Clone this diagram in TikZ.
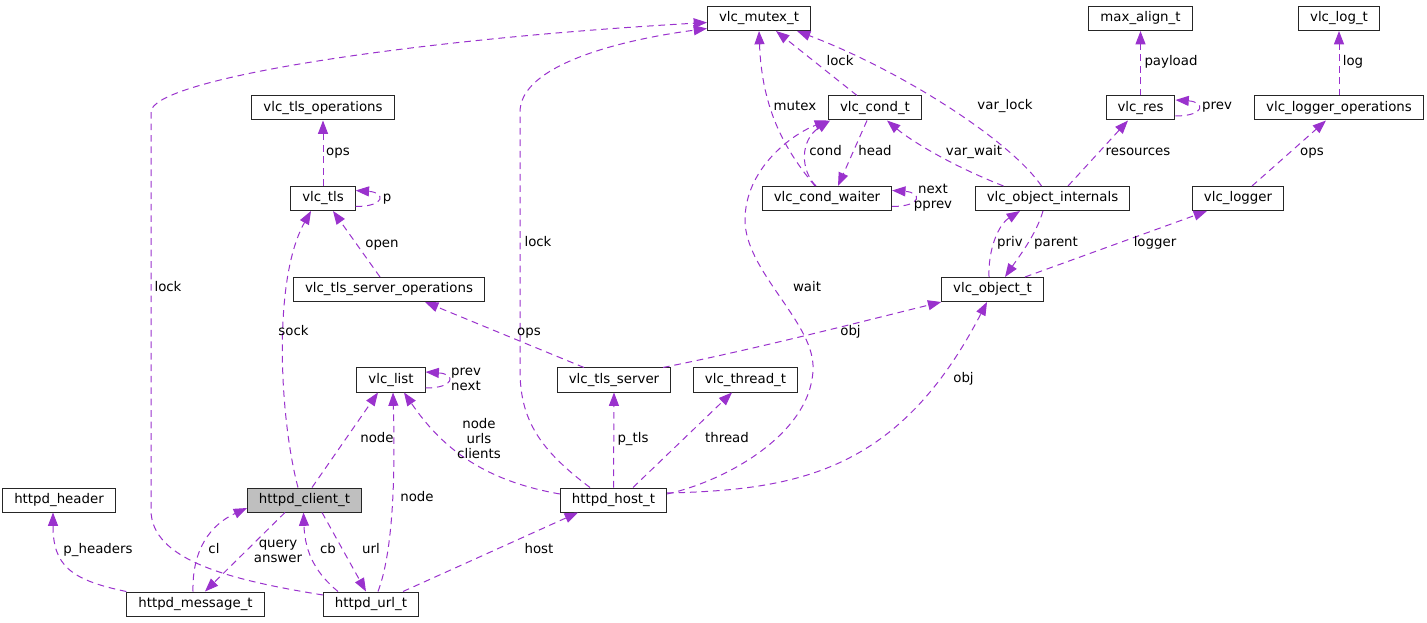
\documentclass[tikz,border=0pt]{standalone}
\usepackage{fontspec}
\setmainfont{DejaVu Sans}
\usepackage{tikz}
\usetikzlibrary{arrows.meta,calc}
\definecolor{edgeColor}{RGB}{154,50,205}
\definecolor{focusColor}{RGB}{191,191,191}
\tikzstyle{collab} = [x = 0.75pt, y = -0.75pt, font=\fontsize{10}{11.25}\selectfont]
\tikzstyle{classBox} = [draw=black!85, fill=white, line width=0.75pt, minimum height=18pt, inner xsep=8.6pt, inner ysep=0pt]
\tikzstyle{focusBox} = [classBox, fill=focusColor]
\tikzstyle{memberEdge} = [color=edgeColor, line width=0.75pt, dash pattern=on 5pt off 3.6pt, -{Triangle[length=10pt, width=7.5pt]}]
\tikzstyle{memberText} = [inner sep=0pt, text height=7.6pt, text depth=2.4pt]
\tikzstyle{memberLines} = [inner sep=0pt, align=center]
\newcommand{\selfLoop}[1]{\draw [memberEdge] ($(#1.east)+(0,8)$) .. controls +(30,0) and +(30,2) .. ($(#1.east)+(0,-8)$);}

\begin{document}
\begin{tikzpicture}[collab]
          \useasboundingbox (0,0) rectangle (1427,623);
          \node [classBox] (mutex) at (759,18.5) {vlc\_mutex\_t};
          \node [classBox] (maxAlign) at (1140.5,18.5) {max\_align\_t};
          \node [classBox] (logT) at (1339,18.5) {vlc\_log\_t};
          \node [classBox] (tlsOps) at (323,108) {vlc\_tls\_operations};
          \node [classBox] (condT) at (875,108) {vlc\_cond\_t};
          \node [classBox] (res) at (1140.5,108) {vlc\_res};
          \node [classBox] (loggerOps) at (1339,108) {vlc\_logger\_operations};
          \node [classBox] (tls) at (323,198.5) {vlc\_tls};
          \node [classBox] (condWaiter) at (827,198.5) {vlc\_cond\_waiter};
          \node [classBox] (objInternals) at (1052.5,198.5) {vlc\_object\_internals};
          \node [classBox] (logger) at (1238,198.5) {vlc\_logger};
          \node [classBox] (tlsServerOps) at (389,289.5) {vlc\_tls\_server\_operations};
          \node [classBox] (objectT) at (992.5,289.5) {vlc\_object\_t};
          \node [classBox] (list) at (391,380) {vlc\_list};
          \node [classBox] (tlsServer) at (614,380) {vlc\_tls\_server};
          \node [classBox] (threadT) at (745.5,380) {vlc\_thread\_t};
          \node [classBox] (header) at (59,500) {httpd\_header};
          \node [focusBox] (clientT) at (304.5,500) {httpd\_client\_t};
          \node [classBox] (hostT) at (613.5,500) {httpd\_host\_t};
          \node [classBox] (messageT) at (195.5,604) {httpd\_message\_t};
          \node [classBox] (urlT) at (371,604) {httpd\_url\_t};

          \draw [memberEdge] (tls.north) -- (tlsOps.south);
          \selfLoop{tls}
          \draw [memberEdge] ($(tlsServerOps.north)+(-9,0)$) -- ($(tls.south)+(10,0)$);
          \draw [memberEdge] ($(clientT.north)+(-6.5,0)$) .. controls (280,420) and (272,280) .. ($(tls.south)+(-12,0)$);
          \draw [memberEdge] ($(urlT.west)+(0,-9)$) .. controls (230,580) and (151,560) .. (151,510) -- (151,112) .. controls (151,80) and (400,40) .. ($(mutex.west)+(0,4)$);
          \draw [memberEdge] ($(hostT.north)+(-23.5,0)$) .. controls (540,450) and (520,420) .. (520,370) -- (520,112) .. controls (520,65) and (620,40) .. ($(mutex.west)+(0,10)$);
          \draw [memberEdge] ($(condWaiter.north)+(-12,0)$) .. controls (785,150) and (762,110) .. (mutex.south);
          \draw [memberEdge] ($(condT.north)+(-18,0)$) -- ($(mutex.south)+(17,0)$);
          \draw [memberEdge] ($(objInternals.north)+(-11,0)$) .. controls (1010,140) and (900,70) .. ($(mutex.south east)+(-14,0)$);
          \draw [memberEdge] ($(condWaiter.north)+(-11,0)$) .. controls (800,170) and (800,140) .. ($(condT.south west)+(2,0)$);
          \draw [memberEdge] ($(condT.south)+(-8,0)$) -- ($(condWaiter.north)+(11,0)$);
          \selfLoop{condWaiter}
          \draw [memberEdge] ($(objInternals.north)+(-49,0)$) .. controls (950,165) and (910,140) .. ($(condT.south)+(12,0)$);
          \draw [memberEdge] ($(hostT.east)+(0,-6)$) .. controls (730,480) and (815,430) .. (813,365) .. controls (811,320) and (745,270) .. (745,220) .. controls (745,170) and (790,135) .. (condT.south west);
          \draw [memberEdge] (res.north) -- (maxAlign.south);
          \selfLoop{res}
          \draw [memberEdge] ($(objInternals.north)+(15.5,0)$) -- ($(res.south)+(-12.5,0)$);
          \draw [memberEdge] (loggerOps.north) -- (logT.south);
          \draw [memberEdge] ($(logger.north)+(14,0)$) -- ($(loggerOps.south)+(-13,0)$);
          \draw [memberEdge] ($(objectT.north)+(-3.5,0)$) .. controls (988,250) and (998,225) .. ($(objInternals.south)+(-32.5,0)$);
          \draw [memberEdge] ($(objInternals.south)+(-9.5,0)$) .. controls (1036,235) and (1018,258) .. ($(objectT.north)+(12.5,0)$);
          \draw [memberEdge] ($(objectT.north)+(32.5,0)$) -- ($(logger.south)+(-31,0)$);
          \draw [memberEdge] ($(tlsServer.north)+(49,0)$) .. controls (760,348) and (860,322) .. (objectT.south west);
          \draw [memberEdge] ($(hostT.east)+(0,-7)$) .. controls (800,490) and (900,470) .. ($(objectT.south)+(-5.5,0)$);
          \draw [memberEdge] ($(tlsServer.north)+(-30,0)$) -- ($(tlsServerOps.south)+(36,0)$);
          \selfLoop{list}
          \draw [memberEdge] ($(clientT.north)+(7.5,0)$) -- ($(list.south)+(-13,0)$);
          \draw [memberEdge] ($(urlT.north)+(7,0)$) .. controls (390,560) and (396,500) .. ($(list.south)+(2,0)$);
          \draw [memberEdge] ($(hostT.west)+(0,-6)$) .. controls (480,480) and (440,445) .. ($(list.south)+(13,0)$);
          \draw [memberEdge] (hostT.north) -- (tlsServer.south);
          \draw [memberEdge] ($(hostT.north)+(19.5,0)$) -- ($(threadT.south)+(-13.5,0)$);
          \draw [memberEdge] ($(urlT.north)+(32,0)$) -- ($(hostT.south)+(-35.5,0)$);
          \draw [memberEdge] (messageT.north west) .. controls (70,580) and (53,565) .. ($(header.south)+(-6,0)$);
          \draw [memberEdge] ($(messageT.north)+(-2.5,0)$) .. controls (192,550) and (210,525) .. ($(clientT.west)+(0,8)$);
          \draw [memberEdge] ($(clientT.south)+(-19.5,0)$) -- ($(messageT.north)+(9.5,0)$);
          \draw [memberEdge] ($(urlT.north)+(-33,0)$) .. controls (318,575) and (305,555) .. ($(clientT.south)+(-1,0)$);
          \draw [memberEdge] ($(clientT.south)+(17.5,0)$) -- ($(urlT.north)+(-5,0)$);

          \node [memberText] (lblOpsTls) at (338,152) {ops};
          \node [memberText] (lblP) at (387,198) {p};
          \node [memberText] (lblOpen) at (382,244) {open};
          \node [memberText] (lblLockUrl) at (168,288) {lock};
          \node [memberText] (lblSock) at (293.5,332) {sock};
          \node [memberText] (lblLockHost) at (538,243) {lock};
          \node [memberText] (lblMutex) at (795,107) {mutex};
          \node [memberText] (lblLockCond) at (840,62) {lock};
          \node [memberText] (lblCond) at (825.5,152) {cond};
          \node [memberText] (lblHead) at (875,152) {head};
          \node [memberLines] (lblNextPprev) at (933,197.5) {next\\pprev};
          \node [memberText] (lblWait) at (807,288) {wait};
          \node [memberText] (lblVarLock) at (1005,106) {var\_lock};
          \node [memberText] (lblVarWait) at (974,152) {var\_wait};
          \node [memberText] (lblPayload) at (1171,62) {payload};
          \node [memberText] (lblPrevRes) at (1217,106) {prev};
          \node [memberText] (lblLog) at (1353,62) {log};
          \node [memberText] (lblResources) at (1138,152) {resources};
          \node [memberText] (lblOpsLogger) at (1312,152) {ops};
          \node [memberText] (lblPriv) at (1010,243) {priv};
          \node [memberText] (lblParent) at (1056,243) {parent};
          \node [memberText] (lblLogger) at (1155,243) {logger};
          \node [memberText] (lblObjServer) at (850.5,332) {obj};
          \node [memberText] (lblObjHost) at (963.5,379) {obj};
          \node [memberText] (lblOpsServer) at (529,332) {ops};
          \node [memberLines] (lblPrevNext) at (466,379.5) {prev\\next};
          \node [memberText] (lblNodeClient) at (377,439) {node};
          \node [memberText] (lblNodeUrl) at (417,498) {node};
          \node [memberLines] (lblNodeHost) at (479,439) {node\\urls\\clients};
          \node [memberText] (lblPTls) at (633,439) {p\_tls};
          \node [memberText] (lblThread) at (727,439) {thread};
          \node [memberText] (lblHost) at (539,550) {host};
          \node [memberText] (lblPHeaders) at (98,550) {p\_headers};
          \node [memberText] (lblCl) at (214,550) {cl};
          \node [memberLines] (lblQuery) at (278,551) {query\\answer};
          \node [memberText] (lblCb) at (328,550) {cb};
          \node [memberText] (lblUrl) at (371,550) {url};
        \end{tikzpicture}
\end{document}
